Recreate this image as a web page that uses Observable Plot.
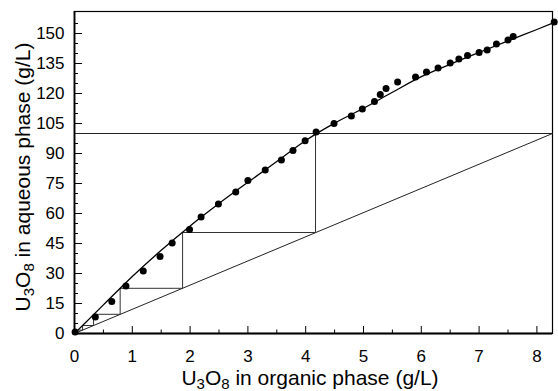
<!DOCTYPE html>
<html><head><meta charset="utf-8">
<script src="https://cdn.jsdelivr.net/npm/d3@7"></script>
<script src="https://cdn.jsdelivr.net/npm/@observablehq/plot@0.6"></script>
<style>body{margin:0;background:#fff} svg{display:block}</style>
</head><body><div id="chart"></div>
<script>
// Experimental equilibrium points
const pointX = [0.01, 0.36, 0.645, 0.89, 1.19, 1.48, 1.69, 1.99, 2.19, 2.49, 2.79, 3.0, 3.30, 3.58, 3.78, 3.99, 4.18, 4.49, 4.79, 4.98, 5.19, 5.29, 5.39, 5.59, 5.90, 6.09, 6.29, 6.50, 6.65, 6.80, 7.0, 7.14, 7.30, 7.50, 7.59, 8.30];
const pointY = [0.8, 8.2, 16, 23.8, 31.2, 38.5, 45.3, 52, 58.3, 64.8, 70.8, 76.5, 81.8, 86.8, 91.5, 96.4, 100.8, 105, 108.8, 112.3, 116, 119.5, 122.5, 125.7, 128.2, 130.7, 132.8, 135.2, 137.2, 139, 140.5, 141.8, 144.7, 146.8, 148.5, 155.8];
// Equilibrium curve
const curveX = [0, 0.5, 1, 1.5, 2, 2.5, 3, 3.5, 4, 4.5, 5, 5.5, 6, 6.5, 7, 7.5, 8, 8.3];
const curveY = [0, 14.3, 28.5, 41.6, 53.8, 65, 75.6, 86, 96.5, 105.2, 112.6, 120.6, 128.4, 134.6, 140.5, 146.3, 152, 155.5];
// Operating line
const opX = [0, 8.27];
const opY = [0, 100];
// Feed line
const feedX = [0, 8.27];
const feedY = [100, 100];
// McCabe-Thiele steps
const stepX = [4.17, 4.17, 1.87, 1.87, 0.79, 0.79, 0.33, 0.33, 0.14, 0.14, 0.06];
const stepY = [100, 50.5, 50.5, 22.6, 22.6, 9.6, 9.6, 4.0, 4.0, 1.7, 1.7];
// Ticks
const xTicks = [0, 1, 2, 3, 4, 5, 6, 7, 8];
const xMinor = [0.5, 1.5, 2.5, 3.5, 4.5, 5.5, 6.5, 7.5];
const yTicks = [0, 15, 30, 45, 60, 75, 90, 105, 120, 135, 150];
const yMinor = [5, 10, 20, 25, 35, 40, 50, 55, 65, 70, 80, 85, 95, 100, 110, 115, 125, 130, 140, 145, 155];

const W = 558, H = 391, mL = 74, mR = 6, mT = 11, mB = 58;
const pw = W - mL - mR, ph = H - mT - mB;
const toXY = (xs, ys) => xs.map((x, i) => ({x, y: ys[i]}));
const font = "'Liberation Sans', Arial, Helvetica, sans-serif";

const plot = Plot.plot({
  width: W, height: H,
  marginLeft: mL, marginRight: mR, marginTop: mT, marginBottom: mB,
  style: {fontFamily: font, fontSize: "17px", color: "#000", background: "#fff"},
  x: {domain: [0, 8.27], label: null},
  y: {domain: [0, 161], label: null},
  marks: [
    Plot.frame({stroke: "#000", strokeWidth: 1.2}),
    Plot.axisX(xTicks, {tickSize: 0, tickPadding: 16, fontSize: 17, tickFormat: d => d}),
    Plot.axisY(yTicks, {tickSize: 0, tickPadding: 10, fontSize: 17, tickFormat: d => d}),
    Plot.tickX(xTicks, {x: d => d, insetTop: ph - 7, stroke: "#000", strokeWidth: 1}),
    Plot.tickX(xMinor, {x: d => d, insetTop: ph - 3.5, stroke: "#000", strokeWidth: 1}),
    Plot.tickY(yTicks, {y: d => d, insetRight: pw - 8, stroke: "#000", strokeWidth: 1}),
    Plot.tickY(yMinor, {y: d => d, insetRight: pw - 4, stroke: "#000", strokeWidth: 1}),
    Plot.line(toXY(feedX, feedY), {x: "x", y: "y", stroke: "#222", strokeWidth: 1}),
    Plot.line(toXY(opX, opY), {x: "x", y: "y", stroke: "#222", strokeWidth: 1}),
    Plot.line(toXY(stepX, stepY), {x: "x", y: "y", stroke: "#333", strokeWidth: 1}),
    Plot.line(toXY(curveX, curveY), {x: "x", y: "y", curve: "monotone-x", stroke: "#000", strokeWidth: 1.3}),
    Plot.dot(toXY(pointX, pointY), {x: "x", y: "y", r: 3.5, fill: "#000", stroke: "none"}),
    Plot.ruleX([0], {stroke: "#000", strokeWidth: 1.8}),
    Plot.ruleY([0], {stroke: "#000", strokeWidth: 1.8})
  ]
});

const svg = d3.select(plot);
function addTitle(sel, rest) {
  sel.append("tspan").text("U");
  sel.append("tspan").attr("dy", 4).attr("font-size", 15).text("3");
  sel.append("tspan").attr("dy", -4).text("O");
  sel.append("tspan").attr("dy", 4).attr("font-size", 15).text("8");
  sel.append("tspan").attr("dy", -4).text(rest);
}
const xt = svg.append("text").attr("x", 310).attr("y", 385)
  .attr("text-anchor", "middle").attr("font-family", font).attr("font-size", 21).attr("fill", "#000");
addTitle(xt, " in organic phase (g/L)");
const yt = svg.append("text").attr("transform", `translate(30,177) rotate(-90)`)
  .attr("text-anchor", "middle").attr("font-family", font).attr("font-size", 21).attr("fill", "#000");
addTitle(yt, " in aqueous phase (g/L)");

document.getElementById("chart").appendChild(plot);
</script>
</body></html>
